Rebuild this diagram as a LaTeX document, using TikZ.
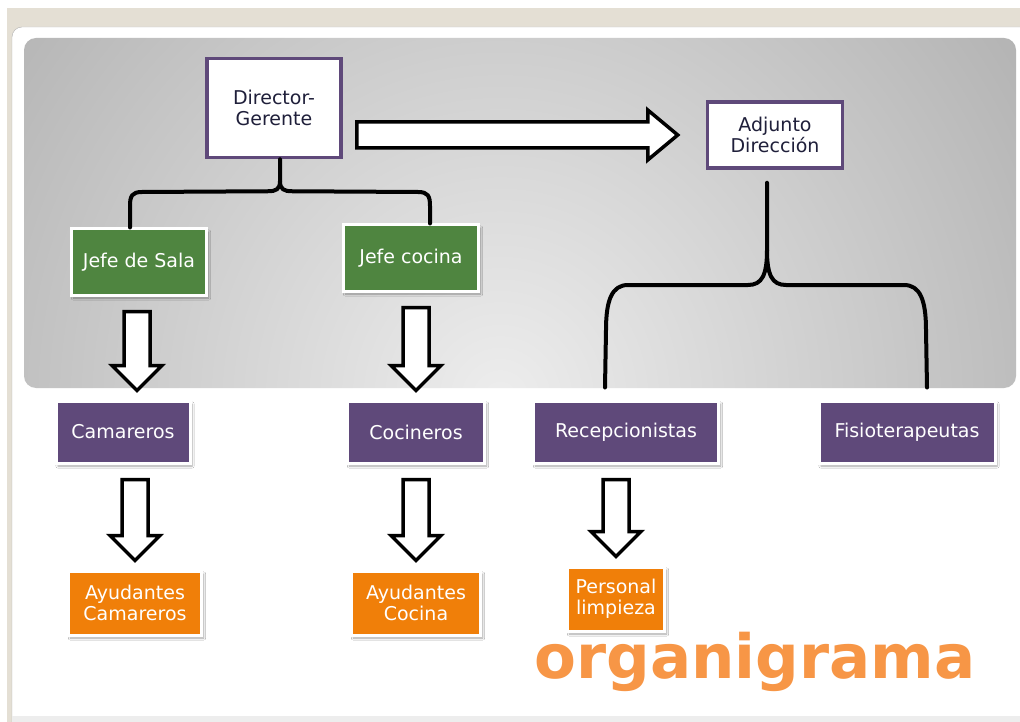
\documentclass[tikz,border=0pt]{standalone}
\usepackage{fontspec}
\setmainfont{DejaVu Sans}
\usetikzlibrary{calc,shadows.blur}
\definecolor{morado}{HTML}{5F497A}
\definecolor{verde}{HTML}{4F8540}
\definecolor{naranja}{HTML}{F07F09}
\definecolor{naranjaclaro}{HTML}{F79646}
\definecolor{beige}{HTML}{E4DFD4}
\definecolor{tinta}{HTML}{1F1F3A}

% block arrow pointing down, from the bottom of #2 to the top of #3
\newcommand{\flechabaja}[3][0]{%
  \draw[flecha] let \p1=(#2.south), \p2=(#3.north) in
    (\x2+#1pt-13pt,\y1-15pt) -- (\x2+#1pt+13pt,\y1-15pt) -- (\x2+#1pt+13pt,\y2+34pt)
    -- (\x2+#1pt+25pt,\y2+34pt) -- (\x2+#1pt,\y2+9pt) -- (\x2+#1pt-25pt,\y2+34pt)
    -- (\x2+#1pt-13pt,\y2+34pt) -- cycle;}

\begin{document}
\begin{tikzpicture}[x=1pt,y=-1pt,
    caja/.style={draw=white, line width=3pt, text=white, align=center, inner sep=2pt,
      font=\fontsize{19}{20.5}\selectfont,
      blur shadow={shadow xshift=2pt, shadow yshift=-3pt, shadow blur steps=6, shadow opacity=35}},
    jefe/.style={caja, fill=verde, minimum width=135pt, minimum height=66pt},
    puesto/.style={caja, fill=morado, minimum height=62pt},
    ayudante/.style={caja, fill=naranja, minimum height=64pt},
    direccion/.style={draw=morado, line width=3.5pt, fill=white, text=tinta, align=center,
      font=\fontsize{19}{20.5}\selectfont},
    flecha/.style={draw=black, line width=3.5pt, fill=white, line join=miter},
    llave/.style={draw=black, line width=4pt, line cap=round}]
  \clip (0,0) rectangle (1020,722);
  % window frame
  \fill[beige] (7,8) rectangle (1020,40);
  \fill[beige] (7,8) rectangle (12,722);
  \draw[black!30, fill=white, rounded corners=10pt] (12,730) -- (12,27) -- (1040,27) -- (1040,730);
  \fill[black!7] (12,716) rectangle (1020,722);
  % grey panel
  \begin{scope}
    \clip[rounded corners=12pt] (24,38) rectangle (1016,388);
    \shade[inner color=black!7, outer color=black!45] (500,400) ellipse (1050 and 1100);
  \end{scope}

  % nodes
  \node[direccion, minimum width=134pt, minimum height=99pt] (dir) at (274,108) {Director-\\Gerente};
  \node[direccion, minimum width=135pt, minimum height=66pt] (adj) at (775,135) {Adjunto\\Dirección};
  \node[jefe] (sala) at (139,262) {Jefe de Sala};
  \node[jefe] (cocina) at (411,258) {Jefe cocina};
  \node[puesto, minimum width=134pt] (cam) at (123,432) {Camareros};
  \node[puesto, minimum width=137pt] (coc) at (416,432) {Cocineros};
  \node[puesto, minimum width=185pt] (rec) at (626,432) {Recepcionistas};
  \node[puesto, minimum width=176pt] (fis) at (907,432) {Fisioterapeutas};
  \node[ayudante, minimum width=133pt] (aycam) at (135,603) {Ayudantes\\Camareros};
  \node[ayudante, minimum width=129pt] (aycoc) at (416,603) {Ayudantes\\Cocina};
  \node[ayudante, minimum width=97pt] (limp) at (616,599) {Personal\\limpieza};

  % braces
  \coordinate (dirfork) at ($(dir.south)+(6,22)$);
  \draw[llave] ([xshift=6pt]dir.south) -- (dirfork)
    .. controls ($(dirfork)+(0,8)$) and ($(dirfork)+(-4,10)$) .. ($(dirfork)+(-12,10)$)
    -- (142,192) .. controls (132,192) and (130,196) .. (130,206) -- ([xshift=-9pt]sala.north);
  \draw[llave] (dirfork)
    .. controls ($(dirfork)+(0,8)$) and ($(dirfork)+(4,10)$) .. ($(dirfork)+(12,10)$)
    -- (418,192) .. controls (428,192) and (430,196) .. (430,206) -- ([xshift=19pt]cocina.north);

  \coordinate (adjfork) at (767,250);
  \draw[llave] ($(adj.south)+(-8,13)$) -- (adjfork)
    .. controls (767,275) and (762,285) .. (748,285) -- (628,285)
    .. controls (612,285) and (606,300) .. (606,330) -- ($(rec.north)+(-21,-12)$);
  \draw[llave] (adjfork)
    .. controls (767,275) and (772,285) .. (786,285) -- (904,285)
    .. controls (920,285) and (926,300) .. (926,330) -- ($(fis.north)+(20,-12)$);

  % block arrows
  \draw[flecha] let \p1=(dir.east), \p2=(adj.west) in
    (\x1+14pt,\y2+13pt) -- (\x2-58pt,\y2+13pt) -- (\x2-58pt,\y2+25pt) -- (\x2-28pt,\y2)
    -- (\x2-58pt,\y2-25pt) -- (\x2-58pt,\y2-13pt) -- (\x1+14pt,\y2-13pt) -- cycle;
  \flechabaja[14]{sala}{cam}
  \flechabaja{cocina}{coc}
  \flechabaja{cam}{aycam}
  \flechabaja{coc}{aycoc}
  \flechabaja{rec}{limp}

  % title
  \node[anchor=base, text=naranjaclaro, font=\bfseries\fontsize{61}{61}\selectfont] (titulo) at (755,678) {organigrama};
\end{tikzpicture}
\end{document}
